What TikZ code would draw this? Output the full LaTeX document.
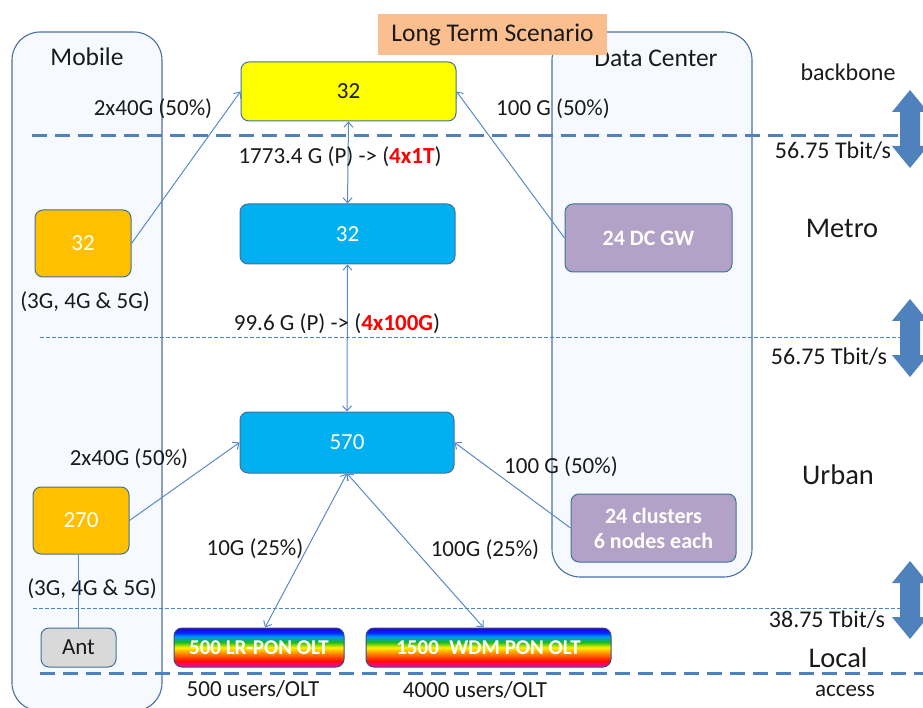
\documentclass[tikz,border=0pt]{standalone}
\usepackage{fontspec}
\setmainfont{Carlito}
\usetikzlibrary{arrows.meta}

\definecolor{ink}{HTML}{1A1A1A}
\definecolor{groupline}{HTML}{4A6FA5}
\definecolor{groupfill}{HTML}{F6FAFE}
\definecolor{boxline}{HTML}{41719C}
\definecolor{linkblue}{HTML}{5A8AC6}
\definecolor{layerblue}{HTML}{4F81BD}
\definecolor{coreyellow}{HTML}{FFFF00}
\definecolor{coreblue}{HTML}{00B0F0}
\definecolor{mobileorange}{HTML}{FFC000}
\definecolor{dcpurple}{HTML}{B3A2C7}
\definecolor{antgrey}{HTML}{D9D9D9}
\definecolor{titlepeach}{HTML}{FBBE8E}
\definecolor{ponline}{HTML}{3B4E7A}

% rainbow band for the OLT boxes (bottom -> top)
\pgfdeclareverticalshading{ponband}{100bp}{
  color(0bp)=(magenta!75!red); color(25bp)=(magenta!75!red);
  color(33bp)=(red!90!orange); color(42bp)=(orange);
  color(50bp)=(yellow!90!orange); color(57bp)=(green!70!black!90);
  color(64bp)=(cyan!60!blue); color(69bp)=(blue!85!cyan);
  color(75bp)=(blue!70!violet); color(100bp)=(blue!70!violet)}

\tikzstyle{group} = [draw=groupline, fill=groupfill, line width=1.1pt, rounded corners=28pt]
\tikzstyle{box} = [draw=boxline, line width=1pt, rounded corners=8pt, inner sep=0pt]
\tikzstyle{pon} = [box, draw=ponline, shading=ponband, text=white,
  font=\fontsize{21}{25}\selectfont\bfseries]
\tikzstyle{uplink} = [draw=linkblue, line width=1pt]
\tikzstyle{layer thick} = [draw=layerblue, line width=3pt, dash pattern=on 15pt off 8pt]
\tikzstyle{layer thin} = [draw=layerblue, line width=1pt, dash pattern=on 4pt off 2pt]
\tikzstyle{layer name} = [font=\fontsize{28.5}{32}\selectfont]
\tikzstyle{rate} = [font=\fontsize{24}{28}\selectfont]
\tikzstyle{domain name} = [font=\fontsize{25.5}{30}\selectfont]

\tikzset{
  rate arrow/.pic={
    \fill[layerblue] (-10,-17) -- (-18,-17) -- (0,-39) -- (18,-17) -- (10,-17)
      -- (10,17) -- (18,17) -- (0,39) -- (-18,17) -- (-10,17) -- cycle;
  }
}

\begin{document}
\begin{tikzpicture}[x=1pt, y=-1pt,
    >={Straight Barb[length=5pt,width=9pt]},
    every node/.style={text=ink, font=\fontsize{23}{27}\selectfont}]
  \useasboundingbox (0,0) rectangle (923,708);

  % mobile and data center domains
  \draw[group] (12,32) rectangle (162,711);
  \draw[group] (552,32) rectangle (752,577);
  \node[domain name] (mobtitle) at (87,57) {Mobile};
  \node[domain name] (dctitle) at (656,58) {Data Center};

  % layer boundaries
  \draw[layer thick] (32,136) -- (902,136);
  \draw[layer thin] (40,338) -- (905,338);
  \draw[layer thin] (33,608) -- (905,608);
  \draw[layer thick] (40,673) -- (923,673);

  % aggregation chain
  \node[box, fill=coreyellow, minimum width=215, minimum height=59] (bb) at (348.5,91.5) {32};
  \node[box, fill=coreblue, text=white, minimum width=215, minimum height=60] (metro) at (347.5,234) {32};
  \node[box, fill=coreblue, text=white, minimum width=214, minimum height=61] (urban) at (347,442.5) {570};

  % mobile side
  \node[box, fill=mobileorange, text=white, minimum width=96, minimum height=67] (mob1) at (83,243.5) {32};
  \node[box, fill=mobileorange, text=white, minimum width=96, minimum height=67] (mob2) at (81,520.5) {270};
  \node[box, fill=antgrey, minimum width=75, minimum height=39] (ant) at (78.5,647.5) {Ant\hspace{14pt}};
  \node (gen1) at (85,302) {(3G, 4G \& 5G)};
  \node (gen2) at (92,589) {(3G, 4G \& 5G)};

  % data center side
  \node[box, fill=dcpurple, text=white, font=\fontsize{22}{26}\selectfont\bfseries,
    minimum width=167, minimum height=68] (dcgw) at (648.5,238) {24 DC GW};
  \node[box, fill=dcpurple, text=white, font=\fontsize{22}{26}\selectfont\bfseries,
    align=center, minimum width=165, minimum height=68] (clus) at (653.5,528)
    {24 clusters\\[-1pt]6 nodes each};

  % access OLTs
  \node[pon, minimum width=170, minimum height=39] (lrpon) at (259,647.5) {500 LR-PON OLT};
  \node[pon, minimum width=245, minimum height=39] (wdm) at (488.5,647.5) {1500\enspace WDM PON OLT};
  \node (lrusers) at (253,689) {500 users/OLT};
  \node (wdmusers) at (475,690) {4000 users/OLT};

  % links
  \draw[uplink, ->] (mob1.east) -- (bb.west);
  \draw[uplink, ->] (dcgw.west) -- (bb.east);
  \draw[uplink, <->] (bb.south) -- (metro.north);
  \draw[uplink, <->] (metro.south) -- (urban.north);
  \draw[uplink, ->] (mob2.east) -- (urban.west);
  \draw[uplink, ->] (clus.west) -- (urban.east);
  \draw[uplink, <->] (urban.south) -- ([xshift=6]lrpon.north);
  \draw[uplink, <->] (urban.south) -- ([xshift=-5]wdm.north);
  \draw[uplink] (ant.north) -- (ant.north |- mob2.south);

  % link labels
  \node (l1) at (153,109) {2x40G (50\%)};
  \node (l2) at (553,109) {100 G (50\%)};
  \node (l3) at (340,157) {1773.4 G (P) -> (\textcolor{red}{\bfseries 4x1T})};
  \node (l4) at (337,324) {99.6 G (P) -> (\textcolor{red}{\bfseries 4x100G})};
  \node (l5) at (129,459) {2x40G (50\%)};
  \node (l6) at (561,467) {100 G (50\%)};
  \node (l7) at (255,549) {10G (25\%)};
  \node (l8) at (485,550) {100G (25\%)};

  % scenario title
  \node[fill=titlepeach, minimum width=229, minimum height=41, inner sep=0pt,
    font=\fontsize{25.5}{30}\selectfont] (title) at (492.5,34.5) {Long Term Scenario};

  % layer throughput arrows
  \pic at (910,129) {rate arrow};
  \pic at (910,338) {rate arrow};
  \pic at (910,600) {rate arrow};

  % layer names
  \node[rate] (bbname) at (848,72) {backbone};
  \node[rate] (r1) at (833,151) {56.75 Tbit/s};
  \node[layer name] (metroname) at (842,228) {Metro};
  \node[rate] (r2) at (829,357) {56.75 Tbit/s};
  \node[layer name] (urbanname) at (838,475) {Urban};
  \node[rate] (r3) at (827,620) {38.75 Tbit/s};
  \node[layer name] (localname) at (838,658) {Local};
  \node (accname) at (845,691) {access};
\end{tikzpicture}
\end{document}
